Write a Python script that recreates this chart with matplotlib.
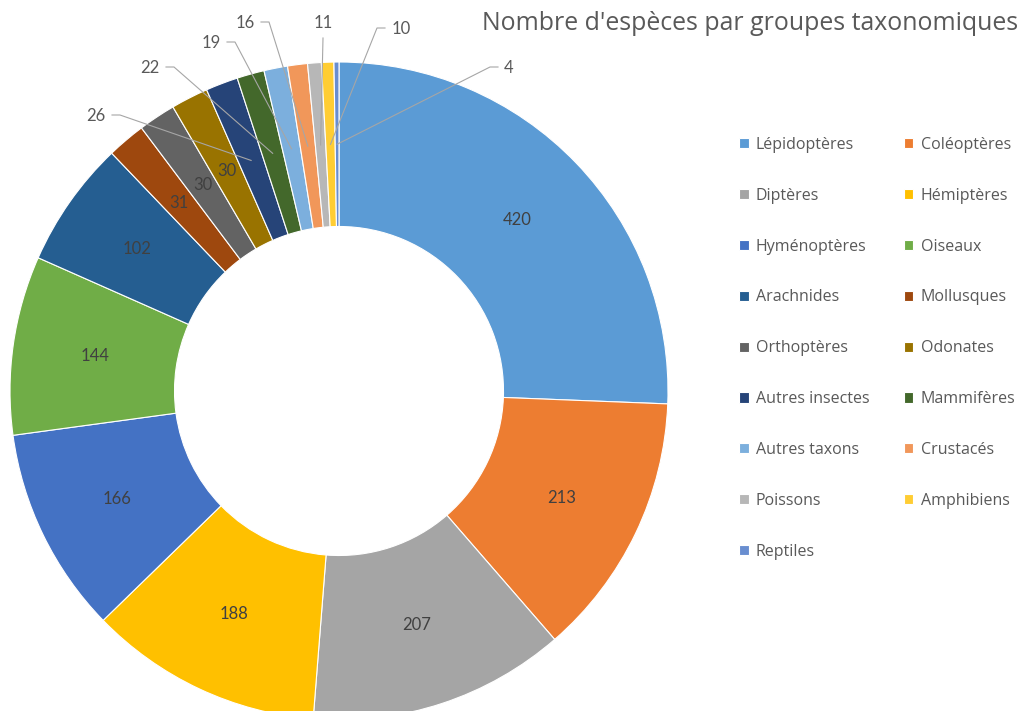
import numpy as np
import matplotlib.pyplot as plt

# data
groupes = ['Lépidoptères', 'Coléoptères', 'Diptères', 'Hémiptères', 'Hyménoptères',
           'Oiseaux', 'Arachnides', 'Mollusques', 'Orthoptères', 'Odonates',
           'Autres insectes', 'Mammifères', 'Autres taxons', 'Crustacés',
           'Poissons', 'Amphibiens', 'Reptiles']
nb_especes = [420, 213, 207, 188, 166, 144, 102, 31, 30, 30, 26, 22, 19, 16, 11, 10, 4]
couleurs = ['#5B9BD5', '#ED7D31', '#A5A5A5', '#FFC000', '#4472C4', '#70AD47',
            '#255E91', '#9E480E', '#636363', '#997300', '#264478', '#43682B',
            '#7CAFDD', '#F1975A', '#B7B7B7', '#FFCD33', '#698ED0']
titre = "Nombre d'espèces par groupes taxonomiques"

# layout (pixels): pie centre and radius, outside label positions
W, H = 1025, 711
cx, cy, R = 339, 391, 329
n_inside = 10  # first 10 slices labelled inside the ring
# text centre in pixels for the small slices (index: (x, y, side))
pos_ext = {10: (96, 116, 'g'), 11: (150, 68, 'g'), 12: (211, 43, 'g'),
           13: (245, 23, 'g'), 14: (323, 23, 'v'), 15: (401, 29, 'd'),
           16: (509, 68, 'd')}

plt.rcParams['font.family'] = ['Lato', 'DejaVu Sans']
police = ['Open Sans', 'DejaVu Sans']

def px2d(px, py):
    return (px - cx) / R, (cy - py) / R

fig = plt.figure(figsize=(W / 100, H / 100), dpi=100)
ax = fig.add_axes([(cx - R) / W, (H - cy - R) / H, 2 * R / W, 2 * R / H])

wedges, _ = ax.pie(nb_especes, colors=couleurs, startangle=90, counterclock=False,
                   radius=1.0, wedgeprops=dict(width=0.5, edgecolor='white', linewidth=0.8))
ax.set_xlim(-1, 1)
ax.set_ylim(-1, 1)
ax.set_aspect('auto')

# labels
for i, w in enumerate(wedges):
    a = np.deg2rad((w.theta1 + w.theta2) / 2)
    x0, y0 = 0.75 * np.cos(a), 0.75 * np.sin(a)
    if i < n_inside:
        ax.text(x0, y0, str(nb_especes[i]), ha='center', va='center',
                fontsize=12, color='#404040')
        continue
    tx, ty, side = pos_ext[i]
    half = 5 * len(str(nb_especes[i]))
    if side == 'g':
        pts = [(tx + half + 6, ty - 1), (tx + half + 14, ty - 1)]
    elif side == 'd':
        pts = [(tx - half - 6, ty - 1), (tx - half - 14, ty - 1)]
    else:
        pts = [(tx, ty + 15)]
    xs = [px2d(*p)[0] for p in pts] + [x0]
    ys = [px2d(*p)[1] for p in pts] + [y0]
    ax.plot(xs, ys, color='#A6A6A6', lw=0.8, clip_on=False)
    lx, ly = px2d(tx, ty)
    ax.text(lx, ly, str(nb_especes[i]), ha='center', va='center',
            fontsize=12, color='#595959', clip_on=False)

# title
fig.text(1018 / W, 1 - 24 / H, titre, ha='right', va='center',
         fontsize=17.9, color='#595959', family=police)

# legend, row-wise order like the original
ordre = list(range(0, 17, 2)) + list(range(1, 17, 2))
leg = fig.legend([wedges[k] for k in ordre], [groupes[k] for k in ordre],
                 loc='upper left', bbox_to_anchor=(739 / W, 1 - 137 / H), ncol=2,
                 frameon=False, prop={'family': police, 'size': 11.5},
                 handlelength=0.6, handleheight=0.6,
                 handletextpad=0.45, labelspacing=2.18, columnspacing=2.15,
                 borderpad=0, borderaxespad=0)
for t in leg.get_texts():
    t.set_color('#595959')

fig.savefig('out.png', dpi=100)
